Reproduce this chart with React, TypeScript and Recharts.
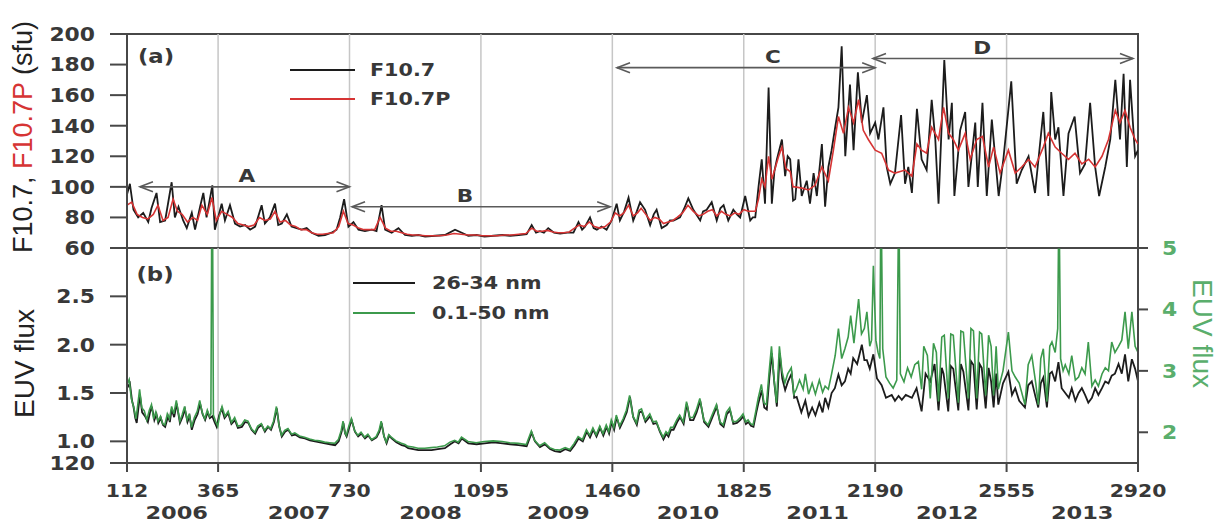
import React from 'react';
import { LineChart, Line, XAxis, YAxis, ReferenceLine, ReferenceArea, Legend } from 'recharts';

const WIDTH = 1224;
const HEIGHT = 524;

// x axis: day number counted from 1 Jan 2006
const DAY_DOMAIN: [number, number] = [112, 2920];
const DAY_TICKS = [112, 365, 730, 1095, 1460, 1825, 2190, 2555, 2920];
const GRID_DAYS = [365, 730, 1095, 1460, 1825, 2190, 2555];
const YEAR_LABELS = ['2006', '2007', '2008', '2009', '2010', '2011', '2012', '2013'];
const YEAR_DAYS = [250, 590, 955, 1310, 1670, 2030, 2390, 2765];

// panel (a)
const F107_DOMAIN: [number, number] = [60, 200];
const F107_TICKS = [60, 80, 100, 120, 140, 160, 180, 200];
const F107_NAMES = ['F10.7', 'F10.7P'];

// panel (b)
const EUV_LEFT_DOMAIN: [number, number] = [0.776, 3.0];
const EUV_LEFT_TICKS = [0.776, 1.0, 1.5, 2.0, 2.5];
const EUV_LEFT_LABELS = ['120', '1.0', '1.5', '2.0', '2.5'];
const EUV_RIGHT_DOMAIN: [number, number] = [1.5, 5];
const EUV_RIGHT_TICKS = [2, 3, 4, 5];
const EUV_NAMES = ['26-34 nm', '0.1-50 nm'];

// periods marked with arrows in panel (a)
const PERIOD_NAMES = ['A', 'B', 'C', 'D'];
const PERIOD_START = [148, 737, 1473, 2184];
const PERIOD_END = [730, 1454, 2190, 2906];
const PERIOD_LEVEL = [100, 87, 178, 184];
const PERIOD_LABEL_DAY = [445, 1051, 1906, 2487];

// [day, sfu]
const F107: [number, number][] = [
  [112, 95], [120, 102], [130, 85], [143, 80], [157, 83], [171, 77], [180, 86], [194, 96], [204, 77], [218, 78],
  [236, 103], [245, 80], [255, 87], [268, 78], [278, 73], [292, 83], [301, 72], [315, 87], [324, 96], [333, 80],
  [349, 101], [356, 72], [375, 89], [384, 78], [398, 88], [412, 76], [426, 74], [440, 75], [454, 72], [468, 74],
  [486, 88], [495, 76], [509, 80], [523, 89], [532, 75], [542, 76], [556, 82], [569, 74], [583, 73], [597, 72],
  [611, 73], [625, 70], [644, 68], [662, 68.5], [680, 70], [694, 72], [704, 80], [715, 92], [727, 74], [741, 77],
  [755, 72], [773, 71], [792, 72], [805, 71], [819, 88], [829, 72], [847, 70], [866, 73], [884, 68.5], [903, 68],
  [921, 68.5], [940, 67.5], [968, 68], [995, 68.5], [1023, 72], [1042, 70], [1060, 68], [1083, 68.5], [1105, 67.5],
  [1130, 68], [1155, 68.5], [1176, 68], [1200, 68.5], [1222, 69], [1236, 75], [1248, 70], [1259, 71], [1270, 70],
  [1282, 73], [1298, 70], [1315, 69.5], [1335, 70], [1352, 70], [1366, 77], [1376, 72], [1384, 74], [1398, 80],
  [1408, 73], [1417, 72], [1430, 74], [1444, 72], [1458, 78], [1472, 89], [1481, 78], [1493, 84], [1505, 93],
  [1518, 78], [1528, 84], [1537, 90], [1551, 85], [1565, 75], [1575, 82], [1583, 85], [1597, 73], [1611, 75],
  [1620, 78], [1630, 78], [1648, 80], [1660, 86], [1671, 92.5], [1685, 85], [1704, 78], [1712, 84], [1722, 85],
  [1736, 90], [1750, 78], [1760, 86], [1769, 88], [1782, 78], [1796, 85], [1806, 82], [1815, 80], [1829, 94],
  [1843, 78], [1850, 80], [1857, 80], [1866, 100], [1875, 118], [1884, 89], [1894, 165], [1903, 89], [1910, 110],
  [1917, 118], [1931, 131], [1940, 107], [1947, 120], [1954, 118], [1962, 91], [1968, 92], [1977, 118], [1986, 94],
  [2000, 104], [2009, 89], [2019, 109], [2028, 94], [2042, 128], [2051, 87], [2060, 113], [2069, 124], [2079, 139],
  [2088, 152], [2097, 192], [2107, 120], [2120, 167], [2130, 124], [2142, 175], [2153, 142], [2167, 160], [2176, 135],
  [2190, 142], [2199, 131], [2213, 152], [2222, 113], [2232, 102], [2245, 109], [2262, 147], [2273, 102], [2282, 113],
  [2292, 96], [2306, 151], [2319, 118], [2333, 111], [2347, 157], [2357, 131], [2366, 89], [2382, 183], [2394, 131],
  [2403, 155], [2410, 94], [2426, 137], [2440, 149], [2449, 100], [2468, 142], [2475, 100], [2488, 155], [2500, 94],
  [2514, 144], [2533, 94], [2546, 118], [2568, 169], [2583, 102], [2597, 111], [2616, 120], [2634, 96], [2657, 149],
  [2671, 94], [2679, 162], [2690, 131], [2699, 139], [2713, 94], [2727, 135], [2744, 146], [2759, 109], [2773, 115],
  [2787, 155], [2801, 113], [2812, 94], [2829, 113], [2843, 131], [2857, 170], [2870, 131], [2880, 174], [2889, 113],
  [2898, 170], [2912, 120], [2920, 124],
];

const F107P: [number, number][] = [
  [112, 88], [125, 90], [140, 82], [155, 80], [170, 79], [185, 82], [198, 88], [212, 78], [226, 80], [240, 92],
  [252, 84], [265, 82], [280, 77], [295, 80], [308, 78], [320, 88], [335, 82], [348, 93], [360, 78], [375, 84],
  [390, 82], [405, 80], [420, 76], [435, 75], [450, 74], [465, 75], [480, 80], [495, 78], [510, 79], [523, 84],
  [537, 77], [552, 78], [566, 75], [580, 74], [595, 72], [610, 72], [625, 70], [640, 69], [655, 69], [670, 69.5],
  [685, 70], [700, 74], [713, 84], [726, 76], [740, 75], [755, 73], [770, 72], [785, 72], [800, 72], [815, 80],
  [830, 73], [845, 71], [860, 71], [875, 70], [890, 69], [905, 68.5], [920, 68.5], [940, 68], [960, 68], [980, 68],
  [1000, 68.5], [1020, 69.5], [1040, 69], [1060, 68.5], [1080, 68.5], [1100, 68], [1120, 68], [1140, 68], [1160, 68.5],
  [1180, 68.5], [1200, 69], [1220, 69.5], [1236, 73], [1250, 71], [1265, 71], [1280, 71.5], [1295, 70.5], [1310, 70],
  [1325, 70], [1340, 70.5], [1355, 73], [1368, 75], [1382, 74], [1396, 77], [1410, 74], [1425, 73], [1440, 74],
  [1455, 77], [1468, 83], [1480, 81], [1492, 83], [1505, 88], [1518, 81], [1530, 83], [1540, 86], [1553, 82],
  [1565, 78], [1578, 80], [1590, 79], [1602, 76], [1615, 77], [1628, 78], [1640, 80], [1655, 83], [1670, 88],
  [1685, 84], [1700, 81], [1712, 82], [1725, 84], [1738, 85], [1750, 81], [1763, 84], [1775, 82], [1788, 81],
  [1800, 83], [1812, 82], [1825, 85], [1838, 84], [1850, 84], [1857, 84], [1866, 92], [1875, 105], [1884, 100],
  [1894, 120], [1903, 105], [1912, 112], [1922, 120], [1931, 126], [1942, 112], [1954, 110], [1962, 100], [1968, 100],
  [1990, 99], [2005, 98], [2023, 101], [2042, 113], [2060, 104], [2074, 124], [2088, 146], [2102, 135], [2116, 152],
  [2130, 142], [2144, 157], [2157, 137], [2171, 131], [2190, 124], [2208, 122], [2227, 111], [2245, 109], [2273, 111],
  [2292, 107], [2306, 128], [2319, 124], [2333, 122], [2347, 139], [2366, 131], [2380, 152], [2394, 135], [2407, 131],
  [2421, 124], [2440, 135], [2454, 118], [2472, 131], [2488, 133], [2505, 113], [2519, 126], [2537, 109], [2560, 124],
  [2579, 109], [2597, 113], [2616, 118], [2634, 113], [2657, 126], [2671, 135], [2690, 126], [2708, 122], [2727, 118],
  [2745, 122], [2764, 115], [2783, 118], [2801, 113], [2820, 120], [2838, 131], [2857, 150], [2870, 142], [2884, 150],
  [2898, 139], [2912, 131], [2920, 128],
];

// 26-34 nm flux, left axis
const EUV_26_34: [number, number][] = [
  [112, 1.55], [120, 1.6], [126, 1.42], [130, 1.36], [135, 1.24], [139, 1.19], [144, 1.35], [148, 1.48], [154, 1.3],
  [162, 1.26], [170, 1.2], [176, 1.3], [181, 1.36], [188, 1.22], [194, 1.28], [199, 1.19], [206, 1.24], [212, 1.17],
  [218, 1.15], [226, 1.26], [231, 1.2], [236, 1.33], [243, 1.25], [250, 1.39], [255, 1.28], [259, 1.19], [266, 1.25],
  [273, 1.33], [280, 1.2], [286, 1.26], [292, 1.12], [300, 1.22], [308, 1.28], [315, 1.39], [322, 1.28], [329, 1.22],
  [336, 1.3], [342, 1.24], [349, 1.26], [355, 1.2], [361, 1.15], [368, 1.27], [375, 1.34], [383, 1.24], [393, 1.29],
  [402, 1.18], [412, 1.22], [420, 1.14], [431, 1.15], [440, 1.2], [449, 1.19], [458, 1.12], [468, 1.08], [476, 1.14],
  [486, 1.17], [495, 1.1], [504, 1.15], [512, 1.12], [520, 1.2], [528, 1.34], [535, 1.15], [542, 1.05], [551, 1.1],
  [560, 1.12], [570, 1.06], [579, 1.07], [592, 1.04], [606, 1.03], [620, 1.01], [634, 1.0], [648, 0.99], [662, 0.98],
  [676, 0.97], [690, 0.96], [700, 1.0], [708, 1.1], [713, 1.19], [718, 1.08], [722, 1.05], [729, 1.14], [736, 1.22],
  [745, 1.1], [754, 1.05], [763, 1.08], [773, 1.03], [782, 1.06], [792, 1.01], [805, 1.04], [813, 1.1], [819, 1.19],
  [826, 1.05], [833, 0.98], [840, 1.06], [847, 1.03], [860, 0.99], [875, 0.96], [885, 0.95], [893, 0.93], [907, 0.92],
  [921, 0.91], [940, 0.91], [958, 0.91], [975, 0.92], [995, 0.93], [1010, 0.97], [1023, 1.0], [1033, 0.98], [1042, 1.03],
  [1060, 0.98], [1083, 0.97], [1105, 0.98], [1130, 0.99], [1155, 0.98], [1176, 0.97], [1200, 0.96], [1222, 0.95],
  [1236, 1.09], [1245, 1.0], [1259, 0.94], [1273, 0.97], [1287, 0.92], [1300, 0.9], [1315, 0.89], [1330, 0.92],
  [1343, 0.9], [1355, 0.96], [1366, 1.03], [1378, 1.0], [1389, 1.1], [1398, 1.04], [1407, 1.12], [1416, 1.05],
  [1426, 1.14], [1435, 1.06], [1444, 1.15], [1451, 1.08], [1458, 1.2], [1465, 1.12], [1472, 1.25], [1481, 1.14],
  [1491, 1.22], [1500, 1.3], [1509, 1.46], [1518, 1.25], [1528, 1.17], [1535, 1.3], [1542, 1.31], [1552, 1.2],
  [1565, 1.26], [1574, 1.18], [1583, 1.19], [1592, 1.1], [1602, 1.02], [1610, 1.08], [1616, 1.05], [1623, 1.12],
  [1630, 1.12], [1640, 1.2], [1648, 1.25], [1658, 1.18], [1667, 1.39], [1676, 1.22], [1685, 1.22], [1694, 1.3],
  [1704, 1.42], [1715, 1.2], [1727, 1.15], [1738, 1.25], [1750, 1.36], [1760, 1.18], [1769, 1.15], [1778, 1.28],
  [1787, 1.32], [1796, 1.18], [1806, 1.19], [1815, 1.22], [1824, 1.26], [1831, 1.18], [1838, 1.2], [1845, 1.16],
  [1852, 1.15], [1860, 1.3], [1866, 1.4], [1875, 1.53], [1882, 1.35], [1889, 1.33], [1896, 1.65], [1903, 1.91],
  [1910, 1.6], [1917, 1.36], [1925, 1.91], [1932, 1.65], [1940, 1.53], [1948, 1.62], [1958, 1.7], [1965, 1.45],
  [1972, 1.46], [1985, 1.3], [1996, 1.42], [2005, 1.26], [2015, 1.35], [2024, 1.27], [2035, 1.4], [2044, 1.3],
  [2051, 1.45], [2060, 1.35], [2069, 1.5], [2078, 1.55], [2088, 1.69], [2097, 1.58], [2106, 1.62], [2115, 1.75],
  [2122, 1.7], [2129, 1.86], [2140, 1.8], [2153, 2.0], [2160, 1.84], [2167, 1.84], [2175, 1.75], [2185, 1.9],
  [2195, 1.65], [2208, 1.58], [2220, 1.45], [2236, 1.48], [2245, 1.42], [2255, 1.47], [2264, 1.43], [2275, 1.48],
  [2292, 1.45], [2305, 1.55], [2319, 1.31], [2330, 1.7], [2343, 1.62], [2355, 1.8], [2366, 1.32], [2375, 1.76],
  [2380, 1.7], [2393, 1.31], [2400, 1.78], [2407, 1.75], [2421, 1.32], [2428, 1.8], [2435, 1.72], [2449, 1.32],
  [2456, 1.83], [2463, 1.79], [2472, 1.33], [2480, 1.8], [2486, 1.76], [2497, 1.34], [2505, 1.76], [2512, 1.62],
  [2519, 1.35], [2526, 1.7], [2532, 1.38], [2545, 1.6], [2560, 1.72], [2570, 1.48], [2579, 1.55], [2590, 1.42],
  [2606, 1.35], [2615, 1.58], [2625, 1.62], [2636, 1.45], [2643, 1.35], [2650, 1.6], [2657, 1.66], [2667, 1.35],
  [2675, 1.7], [2681, 1.72], [2690, 1.62], [2699, 1.82], [2708, 1.55], [2718, 1.5], [2728, 1.45], [2736, 1.55],
  [2746, 1.42], [2755, 1.5], [2764, 1.55], [2773, 1.48], [2782, 1.4], [2792, 1.45], [2801, 1.55], [2810, 1.48],
  [2820, 1.55], [2829, 1.62], [2838, 1.6], [2847, 1.68], [2856, 1.7], [2866, 1.8], [2875, 1.7], [2884, 1.9],
  [2893, 1.62], [2903, 1.85], [2912, 1.75], [2920, 1.62],
];

// 0.1-50 nm flux, right axis
const EUV_01_50: [number, number][] = [
  [112, 2.78], [118, 2.86], [124, 2.55], [131, 2.4], [137, 2.22], [142, 2.45], [147, 2.7], [153, 2.4], [160, 2.35],
  [167, 2.2], [174, 2.36], [180, 2.45], [186, 2.22], [192, 2.33], [198, 2.18], [205, 2.26], [211, 2.14], [217, 2.12],
  [224, 2.3], [230, 2.22], [236, 2.42], [242, 2.3], [249, 2.52], [254, 2.34], [259, 2.18], [265, 2.28], [272, 2.42],
  [279, 2.2], [285, 2.3], [291, 2.08], [299, 2.24], [307, 2.34], [314, 2.52], [321, 2.32], [328, 2.22], [335, 2.36],
  [341, 2.26], [345, 2.3], [347, 4.98], [350, 4.98], [352, 2.28], [358, 2.18], [364, 2.1], [370, 2.3], [376, 2.42],
  [384, 2.26], [393, 2.34], [402, 2.16], [411, 2.24], [420, 2.1], [430, 2.12], [439, 2.2], [448, 2.18], [457, 2.06],
  [467, 2.0], [475, 2.1], [485, 2.14], [494, 2.03], [503, 2.1], [511, 2.06], [519, 2.18], [527, 2.42], [534, 2.12],
  [541, 1.95], [550, 2.03], [559, 2.06], [569, 1.97], [578, 1.99], [591, 1.94], [605, 1.92], [619, 1.89], [633, 1.87],
  [647, 1.86], [661, 1.84], [675, 1.83], [689, 1.82], [699, 1.88], [707, 2.03], [712, 2.18], [717, 2.0], [721, 1.95],
  [728, 2.1], [735, 2.22], [744, 2.03], [753, 1.95], [762, 2.0], [772, 1.92], [781, 1.97], [791, 1.88], [804, 1.93],
  [812, 2.03], [818, 2.18], [825, 1.95], [832, 1.84], [839, 1.96], [846, 1.92], [859, 1.86], [874, 1.82], [884, 1.8],
  [892, 1.77], [906, 1.76], [920, 1.74], [939, 1.74], [957, 1.75], [974, 1.76], [994, 1.78], [1009, 1.84], [1022, 1.87],
  [1032, 1.84], [1041, 1.92], [1059, 1.85], [1082, 1.83], [1104, 1.85], [1129, 1.86], [1154, 1.85], [1175, 1.83],
  [1199, 1.82], [1221, 1.8], [1235, 2.02], [1244, 1.87], [1258, 1.78], [1272, 1.83], [1286, 1.75], [1299, 1.72],
  [1314, 1.71], [1329, 1.75], [1342, 1.72], [1354, 1.82], [1365, 1.93], [1377, 1.88], [1388, 2.04], [1397, 1.95],
  [1406, 2.07], [1415, 1.96], [1425, 2.1], [1434, 1.98], [1443, 2.12], [1450, 2.01], [1457, 2.2], [1464, 2.08],
  [1471, 2.28], [1480, 2.1], [1490, 2.22], [1499, 2.36], [1508, 2.6], [1517, 2.27], [1527, 2.15], [1534, 2.36],
  [1541, 2.38], [1551, 2.2], [1564, 2.3], [1573, 2.17], [1582, 2.18], [1591, 2.04], [1601, 1.92], [1609, 2.01],
  [1615, 1.97], [1622, 2.08], [1629, 2.08], [1639, 2.2], [1647, 2.28], [1657, 2.17], [1666, 2.5], [1675, 2.24],
  [1684, 2.24], [1693, 2.36], [1703, 2.55], [1714, 2.2], [1726, 2.12], [1737, 2.28], [1749, 2.45], [1759, 2.17],
  [1768, 2.12], [1777, 2.33], [1786, 2.4], [1795, 2.17], [1805, 2.18], [1814, 2.23], [1823, 2.3], [1830, 2.17],
  [1837, 2.2], [1844, 2.14], [1851, 2.12], [1859, 2.36], [1865, 2.55], [1874, 2.78], [1881, 2.48], [1888, 2.45],
  [1895, 2.95], [1902, 3.4], [1909, 2.88], [1916, 2.48], [1924, 3.4], [1931, 3.0], [1939, 2.8], [1947, 2.95],
  [1957, 3.05], [1964, 2.62], [1971, 2.7], [1980, 2.85], [1990, 2.7], [1996, 2.95], [2005, 2.62], [2015, 2.8],
  [2024, 2.62], [2035, 2.85], [2044, 2.65], [2051, 2.75], [2060, 2.7], [2069, 2.95], [2079, 3.25], [2088, 3.69],
  [2097, 3.2], [2106, 3.36], [2115, 3.55], [2122, 3.9], [2131, 3.45], [2144, 4.17], [2152, 3.6], [2160, 3.69],
  [2167, 3.96], [2175, 3.4], [2180, 3.5], [2185, 4.71], [2192, 3.5], [2198, 3.3], [2203, 3.2], [2205, 4.98],
  [2208, 4.98], [2211, 3.36], [2220, 2.9], [2230, 2.8], [2240, 2.72], [2250, 2.85], [2254, 4.98], [2257, 4.98],
  [2260, 2.95], [2270, 2.82], [2280, 3.05], [2290, 2.9], [2300, 3.1], [2310, 3.15], [2319, 2.7], [2325, 3.4],
  [2335, 3.25], [2343, 2.55], [2352, 3.45], [2360, 3.3], [2366, 2.5], [2375, 3.55], [2382, 3.58], [2393, 2.55],
  [2400, 3.6], [2407, 3.58], [2421, 2.48], [2428, 3.65], [2435, 3.63], [2449, 2.55], [2456, 3.69], [2463, 3.65],
  [2472, 2.55], [2480, 3.63], [2486, 3.6], [2497, 2.6], [2505, 3.58], [2512, 3.4], [2519, 2.6], [2526, 3.4],
  [2532, 2.7], [2545, 3.0], [2560, 3.63], [2570, 3.0], [2579, 2.9], [2590, 2.8], [2606, 2.45], [2615, 3.1],
  [2625, 3.25], [2636, 2.8], [2643, 2.45], [2650, 3.2], [2657, 3.36], [2667, 2.5], [2675, 3.4], [2681, 3.47],
  [2690, 3.3], [2697, 3.69], [2699, 4.98], [2702, 4.98], [2705, 3.2], [2712, 3.0], [2718, 3.1], [2728, 2.95],
  [2736, 3.25], [2746, 2.85], [2755, 2.9], [2764, 3.05], [2773, 2.95], [2782, 3.47], [2792, 2.75], [2801, 2.85],
  [2810, 2.75], [2820, 2.95], [2829, 3.05], [2838, 3.0], [2847, 3.47], [2856, 3.3], [2866, 3.4], [2875, 3.5],
  [2884, 3.96], [2893, 3.36], [2903, 3.96], [2912, 3.4], [2920, 3.3],
];

const FONT = '"DejaVu Sans", Verdana, sans-serif';
const TITLE_FONT = '"Liberation Sans", Arial, sans-serif';
const TEXT = '#383838';
const FRAME = '#474747';
const GRID = '#c6c6c6';
const ARROW = '#5a5a5a';
const BLACK = '#1c1c1c';
const RED = '#d63434';
const GREEN = '#3c9a4c';
const GREEN_TEXT = '#5aae6c';

const toPoints = (rows: [number, number][]) => rows.map(([day, v]) => ({ day, v }));

// the source figure has wide, heavy lettering, so labels get a horizontal stretch
function WideText({ x, y, anchor = 'middle', size = 18, stretch = 1.2, fill = TEXT, children }: any) {
  return (
    <g transform={`translate(${x},${y}) scale(${stretch},1)`}>
      <text x={0} y={0} dy="0.36em" textAnchor={anchor} fontFamily={FONT} fontWeight="bold" fontSize={size} fill={fill}>
        {children}
      </text>
    </g>
  );
}

const F107Tick = (p: any) => (
  <WideText x={p.x} y={p.y} anchor="end" size={19} stretch={1.15}>{p.payload.value}</WideText>
);
const EuvLeftTick = (p: any) => (
  <WideText x={p.x} y={p.y} anchor="end" size={19} stretch={1.15}>
    {EUV_LEFT_LABELS[EUV_LEFT_TICKS.indexOf(p.payload.value)]}
  </WideText>
);
const EuvRightTick = (p: any) => (
  <WideText x={p.x} y={p.y} anchor="start" size={19} stretch={1.15} fill={GREEN_TEXT}>{p.payload.value}</WideText>
);
const DayTick = (p: any) => (
  <WideText x={p.x} y={p.y + 15} size={17} stretch={1.2}>{p.payload.value}</WideText>
);
const YearTick = (p: any) => (
  <WideText x={p.x} y={p.y + 14} size={18} stretch={1.25}>{YEAR_LABELS[YEAR_DAYS.indexOf(p.payload.value)]}</WideText>
);

const F107Title = (p: any) => {
  const vb = p.viewBox;
  return (
    <text
      transform={`translate(${vb.x + 22},${vb.y + vb.height / 2 - 4}) rotate(-90)`}
      textAnchor="middle"
      dy="0.36em"
      fontFamily={TITLE_FONT}
      fontSize={27}
      fill="#222"
    >
      <tspan>F10.7, </tspan>
      <tspan fill={RED}>F10.7P</tspan>
      <tspan> (sfu)</tspan>
    </text>
  );
};

const EuvLeftTitle = (p: any) => {
  const vb = p.viewBox;
  return (
    <text
      transform={`translate(${vb.x + 24},${vb.y + vb.height / 2 + 8}) rotate(-90)`}
      textAnchor="middle"
      dy="0.36em"
      fontFamily={TITLE_FONT}
      fontSize={28}
      fill="#222"
    >
      EUV flux
    </text>
  );
};

const EuvRightTitle = (p: any) => {
  const vb = p.viewBox;
  return (
    <text
      transform={`translate(${vb.x + 65},${vb.y + vb.height / 2 - 22}) rotate(90)`}
      textAnchor="middle"
      dy="0.36em"
      fontFamily={TITLE_FONT}
      fontSize={28}
      fill={GREEN_TEXT}
    >
      EUV flux
    </text>
  );
};

// double headed arrow with its letter
const arrowShape = (letter: string, frac: number) => (p: any) => {
  const { x1, y1, x2, y2 } = p;
  const len = 13;
  const half = 5;
  return (
    <g>
      <line x1={x1} y1={y1} x2={x2} y2={y2} stroke={ARROW} strokeWidth={1.6} />
      <polyline points={`${x1 + len},${y1 - half} ${x1},${y1} ${x1 + len},${y1 + half}`} fill="none" stroke={ARROW} strokeWidth={1.6} />
      <polyline points={`${x2 - len},${y2 - half} ${x2},${y2} ${x2 - len},${y2 + half}`} fill="none" stroke={ARROW} strokeWidth={1.6} />
      <WideText x={x1 + (x2 - x1) * frac} y={y1 - 11} size={18} stretch={1.2}>{letter}</WideText>
    </g>
  );
};

// legend in the order the series are listed in the figure
const renderLegend = (order: string[], spacing: number, lineLen: number, textX: number) => (props: any) => {
  const items = [...(props.payload || [])].sort((a: any, b: any) => order.indexOf(a.value) - order.indexOf(b.value));
  return (
    <svg width={260} height={70} style={{ overflow: 'visible' }}>
      {items.map((item: any, i: number) => (
        <g key={item.value} transform={`translate(0,${12 + i * spacing})`}>
          <line x1={2} x2={2 + lineLen} y1={0} y2={0} stroke={item.color} strokeWidth={1.8} />
          <WideText x={textX} y={0} anchor="start" size={18} stretch={1.15}>{item.value}</WideText>
        </g>
      ))}
    </svg>
  );
};

export default function App() {
  return (
    <div style={{ position: 'absolute', left: 0, top: 0, width: WIDTH, height: HEIGHT, background: '#fff' }}>
      {/* panel (a) */}
      <div style={{ position: 'absolute', left: 0, top: 0 }}>
        <LineChart width={WIDTH} height={260} margin={{ top: 34, right: 86, bottom: 12, left: 0 }}>
          <XAxis type="number" dataKey="day" domain={DAY_DOMAIN} hide allowDataOverflow />
          <YAxis
            type="number"
            domain={F107_DOMAIN}
            ticks={F107_TICKS}
            interval={0}
            width={127}
            allowDataOverflow
            tick={F107Tick}
            tickSize={17}
            tickMargin={15}
            axisLine={{ stroke: FRAME, strokeWidth: 2 }}
            tickLine={{ stroke: FRAME, strokeWidth: 2 }}
            label={F107Title}
          />
          {GRID_DAYS.map((d) => (
            <ReferenceLine key={d} x={d} stroke={GRID} strokeWidth={1.5} />
          ))}
          <Line data={toPoints(F107)} dataKey="v" name={F107_NAMES[0]} stroke={BLACK} strokeWidth={1.8} dot={false} activeDot={false} isAnimationActive={false} />
          <Line data={toPoints(F107P)} dataKey="v" name={F107_NAMES[1]} stroke={RED} strokeWidth={1.6} dot={false} activeDot={false} isAnimationActive={false} />
          {PERIOD_NAMES.map((name, i) => (
            <ReferenceLine
              key={name}
              segment={[
                { x: PERIOD_START[i], y: PERIOD_LEVEL[i] },
                { x: PERIOD_END[i], y: PERIOD_LEVEL[i] },
              ]}
              shape={arrowShape(name, (PERIOD_LABEL_DAY[i] - PERIOD_START[i]) / (PERIOD_END[i] - PERIOD_START[i]))}
            />
          ))}
          <ReferenceArea x1={DAY_DOMAIN[0]} x2={DAY_DOMAIN[1]} y1={F107_DOMAIN[0]} y2={F107_DOMAIN[1]} fill="none" stroke={FRAME} strokeWidth={2} />
          <Legend
            layout="horizontal"
            verticalAlign="middle"
            align="center"
            content={renderLegend(F107_NAMES, 29, 65, 82)}
            wrapperStyle={{ left: 288, top: 58, width: 260, height: 70 }}
          />
        </LineChart>
      </div>

      {/* panel (b) */}
      <div style={{ position: 'absolute', left: 0, top: 0 }}>
        <LineChart width={WIDTH} height={HEIGHT} margin={{ top: 248, right: 0, bottom: 0, left: 0 }}>
          <XAxis
            type="number"
            dataKey="day"
            domain={DAY_DOMAIN}
            ticks={DAY_TICKS}
            interval={0}
            allowDataOverflow
            height={36}
            tickSize={9}
            tickMargin={4}
            tick={DayTick}
            axisLine={{ stroke: FRAME, strokeWidth: 2 }}
            tickLine={{ stroke: FRAME, strokeWidth: 2 }}
          />
          <XAxis
            xAxisId="year"
            type="number"
            dataKey="day"
            domain={DAY_DOMAIN}
            ticks={YEAR_DAYS}
            interval={0}
            allowDataOverflow
            height={25}
            tickSize={0}
            tickMargin={0}
            axisLine={false}
            tickLine={false}
            tick={YearTick}
          />
          <YAxis
            yAxisId="left"
            type="number"
            domain={EUV_LEFT_DOMAIN}
            ticks={EUV_LEFT_TICKS}
            interval={0}
            width={127}
            allowDataOverflow
            tick={EuvLeftTick}
            tickSize={17}
            tickMargin={15}
            axisLine={{ stroke: FRAME, strokeWidth: 2 }}
            tickLine={{ stroke: FRAME, strokeWidth: 2 }}
            label={EuvLeftTitle}
          />
          <YAxis
            yAxisId="right"
            orientation="right"
            type="number"
            domain={EUV_RIGHT_DOMAIN}
            ticks={EUV_RIGHT_TICKS}
            interval={0}
            width={86}
            allowDataOverflow
            tick={EuvRightTick}
            tickSize={10}
            tickMargin={14}
            axisLine={{ stroke: FRAME, strokeWidth: 2 }}
            tickLine={{ stroke: FRAME, strokeWidth: 2 }}
            label={EuvRightTitle}
          />
          {GRID_DAYS.map((d) => (
            <ReferenceLine key={d} yAxisId="left" x={d} stroke={GRID} strokeWidth={1.5} />
          ))}
          <Line yAxisId="left" data={toPoints(EUV_26_34)} dataKey="v" name={EUV_NAMES[0]} stroke={BLACK} strokeWidth={1.8} dot={false} activeDot={false} isAnimationActive={false} />
          <Line yAxisId="right" data={toPoints(EUV_01_50)} dataKey="v" name={EUV_NAMES[1]} stroke={GREEN} strokeWidth={1.6} dot={false} activeDot={false} isAnimationActive={false} />
          <ReferenceArea yAxisId="left" x1={DAY_DOMAIN[0]} x2={DAY_DOMAIN[1]} y1={EUV_LEFT_DOMAIN[0]} y2={EUV_LEFT_DOMAIN[1]} fill="none" stroke={FRAME} strokeWidth={2} />
          <Legend
            layout="horizontal"
            verticalAlign="middle"
            align="center"
            content={renderLegend(EUV_NAMES, 30, 62, 81)}
            wrapperStyle={{ left: 351, top: 271, width: 260, height: 70 }}
          />
        </LineChart>
      </div>

      {/* panel letters */}
      <svg width={WIDTH} height={HEIGHT} style={{ position: 'absolute', left: 0, top: 0, pointerEvents: 'none' }}>
        <WideText x={156} y={56} size={19} stretch={1.2}>(a)</WideText>
        <WideText x={155} y={274} size={19} stretch={1.2}>(b)</WideText>
      </svg>
    </div>
  );
}
